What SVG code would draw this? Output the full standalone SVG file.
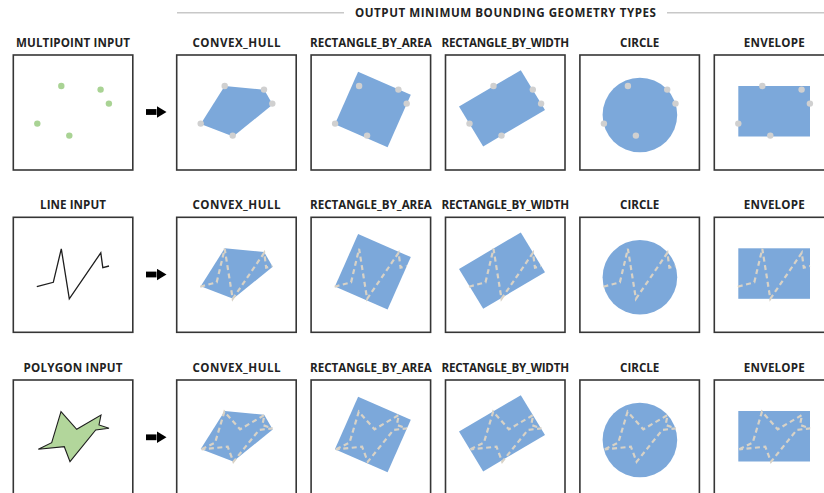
<svg xmlns="http://www.w3.org/2000/svg" xmlns:xlink="http://www.w3.org/1999/xlink" width="824" height="493" viewBox="0 0 824 493">
<style>
  .lbl { font-family: "Open Sans", "Liberation Sans", sans-serif; font-weight: 700; font-size: 11.6px; fill: #222; }
  .box { fill: #fff; stroke: #363636; stroke-width: 1.6; }
  .mbg { fill: #7ca8da; stroke: none; }
  .gdot { fill: #d0d0d0; }
  .pdot { fill: #a9d394; }
  .inl { fill: none; stroke: #1e1e1e; stroke-width: 1.3; stroke-linejoin: miter; }
  .dash { fill: none; stroke: #d8d2c6; stroke-width: 2.2; stroke-dasharray: 5 3.5; }
  .inpg { fill: #b2d69b; stroke: #1e1e1e; stroke-width: 1.1; stroke-linejoin: miter; }
  .hdr { stroke: #c8c8c8; stroke-width: 1.5; }
  .arrow { stroke: #000; stroke-width: 5.8; }
</style>
<defs>
  <g id="pts">
    <circle cx="48" cy="31" r="3.2"/>
    <circle cx="87.3" cy="34.6" r="3.2"/>
    <circle cx="95.6" cy="48.6" r="3.2"/>
    <circle cx="24" cy="68.6" r="3.2"/>
    <circle cx="56" cy="80.6" r="3.2"/>
  </g>
  <polyline id="ln" points="23.5,69.4 40,65 48,31.5 56,81.5 87.5,35.5 89.5,50.4 95.7,48.7"/>
  <polygon id="pg" points="25,69.3 38.4,62.7 47.7,31.7 63.4,49.3 87.7,35 85.7,45 95.7,48.3 82.4,50 56.7,81.7 51,66.7"/>
  <polygon id="hull" points="48,31 87.5,34.8 96,49.5 56.5,81.5 24,69"/>
  <polygon id="rarea" points="47,16.8 99.7,39.8 76.5,92.2 23.8,69.2"/>
  <polygon id="rwidth" points="75.3,15.2 99.5,55 37.7,91.4 13.5,51.6"/>
  <circle id="circ" cx="60" cy="60" r="37.3"/>
  <rect id="env" x="24" y="31" width="71.7" height="50.5"/>
  <rect id="frame" x="0" y="0" width="119.5" height="115"/>
  <marker id="ah" markerUnits="userSpaceOnUse" markerWidth="10" markerHeight="12" refX="0" refY="6" orient="auto">
    <path d="M0,0 L10,6 L0,12 Z" fill="#000"/>
  </marker>
</defs>

<g id="header">
  <line class="hdr" x1="177" y1="12.7" x2="344" y2="12.7"/>
  <text class="lbl" x="505.5" y="17.2" text-anchor="middle" textLength="301" lengthAdjust="spacing">OUTPUT MINIMUM BOUNDING GEOMETRY TYPES</text>
  <line class="hdr" x1="667" y1="12.7" x2="824" y2="12.7"/>
</g>

<!-- Row 1: multipoint -->
<g id="multipoint-input">
  <text class="lbl" x="73" y="46.8" text-anchor="middle" textLength="114" lengthAdjust="spacing">MULTIPOINT INPUT</text>
  <g transform="translate(13.3,55)"><use href="#frame" class="box"/><use href="#pts" class="pdot"/></g>
</g>
<g id="r1-convex-hull">
  <text class="lbl" x="236.5" y="46.8" text-anchor="middle" textLength="88" lengthAdjust="spacing">CONVEX_HULL</text>
  <g transform="translate(176.7,55)"><use href="#frame" class="box"/><use href="#hull" class="mbg"/><use href="#pts" class="gdot"/></g>
</g>
<g id="r1-rectangle-by-area">
  <text class="lbl" x="370.9" y="46.8" text-anchor="middle" textLength="121.7" lengthAdjust="spacing">RECTANGLE_BY_AREA</text>
  <g transform="translate(311.1,55)"><use href="#frame" class="box"/><use href="#rarea" class="mbg"/><use href="#pts" class="gdot"/></g>
</g>
<g id="r1-rectangle-by-width">
  <text class="lbl" x="505.3" y="46.8" text-anchor="middle" textLength="127.6" lengthAdjust="spacing">RECTANGLE_BY_WIDTH</text>
  <g transform="translate(445.5,55)"><use href="#frame" class="box"/><use href="#rwidth" class="mbg"/><use href="#pts" class="gdot"/></g>
</g>
<g id="r1-circle">
  <text class="lbl" x="639.7" y="46.8" text-anchor="middle" textLength="39.3" lengthAdjust="spacing">CIRCLE</text>
  <g transform="translate(579.9,55)"><use href="#frame" class="box"/><use href="#circ" class="mbg"/><use href="#pts" class="gdot"/></g>
</g>
<g id="r1-envelope">
  <text class="lbl" x="774.3" y="46.8" text-anchor="middle" textLength="61" lengthAdjust="spacing">ENVELOPE</text>
  <g transform="translate(714.3,55)"><use href="#frame" class="box"/><use href="#env" class="mbg"/><use href="#pts" class="gdot"/></g>
</g>

<!-- Row 2: line -->
<g id="line-input">
  <text class="lbl" x="73" y="209.1" text-anchor="middle" textLength="66" lengthAdjust="spacing">LINE INPUT</text>
  <g transform="translate(13.3,217.3)"><use href="#frame" class="box"/><use href="#ln" class="inl"/></g>
</g>
<g id="r2-convex-hull">
  <text class="lbl" x="236.5" y="209.1" text-anchor="middle" textLength="88" lengthAdjust="spacing">CONVEX_HULL</text>
  <g transform="translate(176.7,217.3)"><use href="#frame" class="box"/><use href="#hull" class="mbg"/><use href="#ln" class="dash"/></g>
</g>
<g id="r2-rectangle-by-area">
  <text class="lbl" x="370.9" y="209.1" text-anchor="middle" textLength="121.7" lengthAdjust="spacing">RECTANGLE_BY_AREA</text>
  <g transform="translate(311.1,217.3)"><use href="#frame" class="box"/><use href="#rarea" class="mbg"/><use href="#ln" class="dash"/></g>
</g>
<g id="r2-rectangle-by-width">
  <text class="lbl" x="505.3" y="209.1" text-anchor="middle" textLength="127.6" lengthAdjust="spacing">RECTANGLE_BY_WIDTH</text>
  <g transform="translate(445.5,217.3)"><use href="#frame" class="box"/><use href="#rwidth" class="mbg"/><use href="#ln" class="dash"/></g>
</g>
<g id="r2-circle">
  <text class="lbl" x="639.7" y="209.1" text-anchor="middle" textLength="39.3" lengthAdjust="spacing">CIRCLE</text>
  <g transform="translate(579.9,217.3)"><use href="#frame" class="box"/><use href="#circ" class="mbg"/><use href="#ln" class="dash"/></g>
</g>
<g id="r2-envelope">
  <text class="lbl" x="774.3" y="209.1" text-anchor="middle" textLength="61" lengthAdjust="spacing">ENVELOPE</text>
  <g transform="translate(714.3,217.3)"><use href="#frame" class="box"/><use href="#env" class="mbg"/><use href="#ln" class="dash"/></g>
</g>

<!-- Row 3: polygon -->
<g id="polygon-input">
  <text class="lbl" x="73" y="371.8" text-anchor="middle" textLength="99" lengthAdjust="spacing">POLYGON INPUT</text>
  <g transform="translate(13.3,380)"><use href="#frame" class="box"/><use href="#pg" class="inpg"/></g>
</g>
<g id="r3-convex-hull">
  <text class="lbl" x="236.5" y="371.8" text-anchor="middle" textLength="88" lengthAdjust="spacing">CONVEX_HULL</text>
  <g transform="translate(176.7,380)"><use href="#frame" class="box"/><use href="#hull" class="mbg"/><use href="#pg" class="dash"/></g>
</g>
<g id="r3-rectangle-by-area">
  <text class="lbl" x="370.9" y="371.8" text-anchor="middle" textLength="121.7" lengthAdjust="spacing">RECTANGLE_BY_AREA</text>
  <g transform="translate(311.1,380)"><use href="#frame" class="box"/><use href="#rarea" class="mbg"/><use href="#pg" class="dash"/></g>
</g>
<g id="r3-rectangle-by-width">
  <text class="lbl" x="505.3" y="371.8" text-anchor="middle" textLength="127.6" lengthAdjust="spacing">RECTANGLE_BY_WIDTH</text>
  <g transform="translate(445.5,380)"><use href="#frame" class="box"/><use href="#rwidth" class="mbg"/><use href="#pg" class="dash"/></g>
</g>
<g id="r3-circle">
  <text class="lbl" x="639.7" y="371.8" text-anchor="middle" textLength="39.3" lengthAdjust="spacing">CIRCLE</text>
  <g transform="translate(579.9,380)"><use href="#frame" class="box"/><use href="#circ" class="mbg"/><use href="#pg" class="dash"/></g>
</g>
<g id="r3-envelope">
  <text class="lbl" x="774.3" y="371.8" text-anchor="middle" textLength="61" lengthAdjust="spacing">ENVELOPE</text>
  <g transform="translate(714.3,380)"><use href="#frame" class="box"/><use href="#env" class="mbg"/><use href="#pg" class="dash"/></g>
</g>

<g id="connectors">
  <line class="arrow" x1="146" y1="112" x2="156.5" y2="112" marker-end="url(#ah)"/>
  <line class="arrow" x1="146" y1="274.5" x2="156.5" y2="274.5" marker-end="url(#ah)"/>
  <line class="arrow" x1="146" y1="437.3" x2="156.5" y2="437.3" marker-end="url(#ah)"/>
</g>
</svg>
